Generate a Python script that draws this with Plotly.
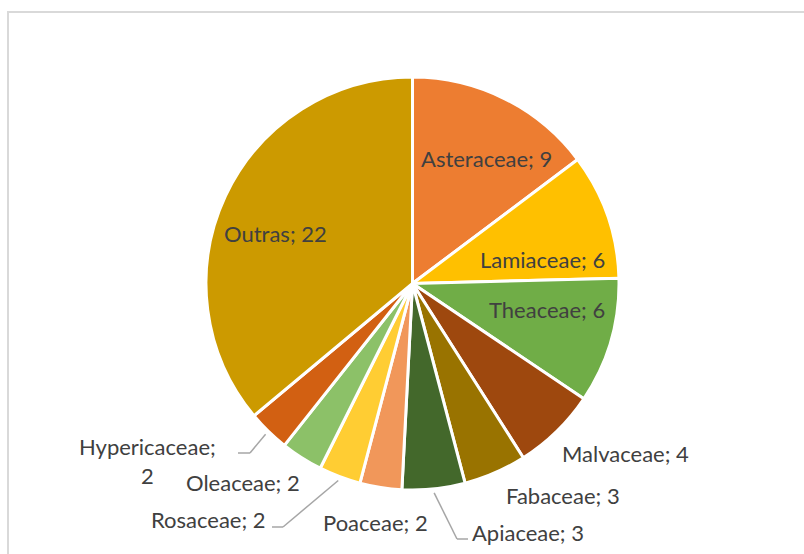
import math
import plotly.graph_objects as go

labels = ["Asteraceae", "Lamiaceae", "Theaceae", "Malvaceae", "Fabaceae", "Apiaceae",
          "Poaceae", "Rosaceae", "Oleaceae", "Hypericaceae", "Outras"]
values = [9, 6, 6, 4, 3, 3, 2, 2, 2, 2, 22]
colors = ["#ED7D31", "#FFC000", "#70AD47", "#9E480E", "#997300", "#43682B",
          "#F1975A", "#FFCD33", "#8CC168", "#D26012", "#CC9A00"]

W, H = 804, 554
CX, CY, R = 412.5, 283.5, 206.5

def px(x):
    return x / W

def py(y):
    return 1 - y / H

fig = go.Figure(go.Pie(
    labels=labels, values=values, sort=False, direction="clockwise", rotation=0,
    marker=dict(colors=colors, line=dict(color="white", width=3)),
    textinfo="none", hoverinfo="label+value", showlegend=False,
    domain=dict(x=[px(CX - R), px(CX + R)], y=[py(CY + R), py(CY - R)]),
))

# label text placement (pixel centres)
label_pos = {
    "Asteraceae": (486, 158),
    "Lamiaceae": (542, 259),
    "Theaceae": (547, 309),
    "Malvaceae": (625, 453),
    "Fabaceae": (563, 495),
    "Apiaceae": (528, 532),
    "Poaceae": (375, 522),
    "Rosaceae": (208, 519),
    "Oleaceae": (243, 482),
    "Hypericaceae": (147, 461),
    "Outras": (275, 233),
}
# leader elbows / ends in pixels
leaders = {
    "Apiaceae": [(457, 539), (468, 539)],
    "Rosaceae": [(283, 527), (272, 527)],
    "Hypericaceae": [(250, 453), (238, 453)],
}

total = sum(values)
annotations = []
shapes = []
cum = 0
for lab, v in zip(labels, values):
    mid = (cum + v / 2) / total * 2 * math.pi
    cum += v
    x, y = label_pos[lab]
    txt = f"{lab};<br>{v}" if lab == "Hypericaceae" else f"{lab}; {v}"
    annotations.append(dict(x=px(x), y=py(y), xref="paper", yref="paper", text=txt,
                            showarrow=False, xanchor="center", yanchor="middle",
                            align="center",
                            font=dict(family="Lato", size=22, color="#404040")))
    if lab in leaders:
        sx = CX + (R + 4) * math.sin(mid)
        sy = CY - (R + 4) * math.cos(mid)
        pts = [(sx, sy)] + leaders[lab]
        for (x0, y0), (x1, y1) in zip(pts[:-1], pts[1:]):
            shapes.append(dict(type="line", xref="paper", yref="paper",
                               x0=px(x0), y0=py(y0), x1=px(x1), y1=py(y1),
                               line=dict(color="#A6A6A6", width=1.5)))

shapes.append(dict(type="rect", xref="paper", yref="paper",
                   x0=px(8), y0=py(12), x1=px(812), y1=py(562),
                   line=dict(color="#D9D9D9", width=2), fillcolor="rgba(0,0,0,0)"))

fig.update_layout(width=W, height=H, margin=dict(l=0, r=0, t=0, b=0),
                  paper_bgcolor="white", plot_bgcolor="white",
                  annotations=annotations, shapes=shapes)
fig.write_html("out.html", config={"displayModeBar": False},
               post_script="document.body.style.margin='0';document.body.style.overflow='hidden';")
